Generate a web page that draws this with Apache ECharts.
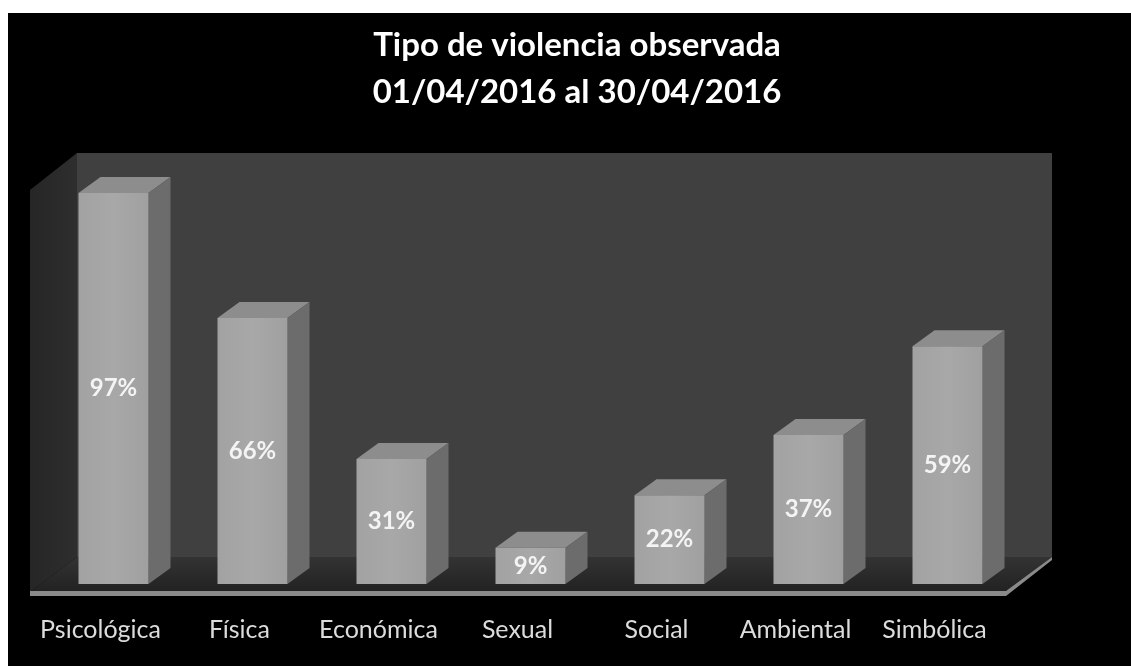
<!DOCTYPE html>
<html>
<head>
<meta charset="utf-8">
<script src="https://cdn.jsdelivr.net/npm/echarts@6/dist/echarts.min.js"></script>
<style>
  html, body { margin: 0; padding: 0; background: #fff; }
  #chart { width: 1131px; height: 666px; }
</style>
</head>
<body>
<div id="chart"></div>
<script>
const categories = ['Psicológica', 'Física', 'Económica', 'Sexual', 'Social', 'Ambiental', 'Simbólica'];
const values = [97, 66, 31, 9, 22, 37, 59];
const titleLines = ['Tipo de violencia observada', '01/04/2016 al 30/04/2016'];

const myChart = echarts.init(document.getElementById('chart'));

// depth of the fake 3d boxes
const DX = 22, DY = 16;

const option = {
    backgroundColor: '#ffffff',
    animation: false,
    title: {
        text: titleLines.join('\n'),
        left: 572,
        top: 17,
        textAlign: 'center',
        textStyle: {
            color: '#ffffff',
            fontFamily: 'Lato',
            fontWeight: 'bold',
            fontSize: 33,
            lineHeight: 47
        }
    },
    graphic: [
        // black panel
        {type: 'rect', z: -10, shape: {x: 8, y: 13, width: 1123, height: 653}, style: {fill: '#000'}},
        // back wall
        {type: 'rect', z: -9, shape: {x: 77, y: 153, width: 975, height: 404}, style: {fill: '#404040'}},
        // left wall
        {type: 'polygon', z: -9, shape: {points: [[30, 190], [77, 153], [77, 557], [30, 592]]},
            style: {fill: new echarts.graphic.LinearGradient(0, 0, 1, 0, [
                {offset: 0, color: '#262626'}, {offset: 1, color: '#2e2e2e'}])}},
        // floor
        {type: 'polygon', z: -9, shape: {points: [[30, 592], [77, 557], [1052, 557], [1005, 592]]},
            style: {fill: new echarts.graphic.LinearGradient(0, 0, 0, 1, [
                {offset: 0, color: '#333333'}, {offset: 1, color: '#222222'}])}},
        // floor front edge
        {type: 'polygon', z: -9, shape: {points: [[30, 591], [1006, 591], [1052, 557], [1052, 560], [1006, 596], [30, 596]]},
            style: {fill: '#8a8a8a'}}
    ],
    grid: {left: 44, right: 114, top: 181, bottom: 82},
    xAxis: {
        type: 'category',
        data: categories,
        axisLine: {show: false},
        axisTick: {show: false},
        axisLabel: {
            interval: 0,
            color: '#dcdcdc',
            fontFamily: 'Lato',
            fontSize: 25,
            margin: 33,
            padding: [0, 26, 0, 0]
        }
    },
    yAxis: {
        type: 'value',
        min: 0,
        max: 100,
        show: false
    },
    series: [
        {
            // top and side faces of the boxes
            type: 'custom',
            z: 1,
            data: values.map(function (v, i) { return [i, v]; }),
            renderItem: function (params, api) {
                const top = api.coord([api.value(0), api.value(1)]);
                const base = api.coord([api.value(0), 0]);
                const w = 70;
                const x0 = top[0] - w / 2, x1 = top[0] + w / 2;
                return {
                    type: 'group',
                    children: [
                        {
                            type: 'polygon',
                            shape: {points: [[x0, top[1]], [x0 + DX, top[1] - DY], [x1 + DX, top[1] - DY], [x1, top[1]]]},
                            style: {fill: '#8d8d8d'}
                        },
                        {
                            type: 'polygon',
                            shape: {points: [[x1, top[1]], [x1 + DX, top[1] - DY], [x1 + DX, base[1] - DY], [x1, base[1]]]},
                            style: {fill: '#6c6c6c'}
                        }
                    ]
                };
            }
        },
        {
            type: 'bar',
            z: 2,
            data: values,
            barWidth: 70,
            itemStyle: {
                color: new echarts.graphic.LinearGradient(0, 0, 1, 0, [
                    {offset: 0, color: '#a2a2a2'}, {offset: 0.5, color: '#a8a8a8'}, {offset: 1, color: '#a0a0a0'}])
            },
            label: {
                show: true,
                position: 'inside',
                formatter: '{c}%',
                color: '#f4f4f4',
                fontFamily: 'Lato',
                fontWeight: 'bold',
                fontSize: 24
            }
        }
    ]
};

myChart.setOption(option);
window.onresize = myChart.resize;
</script>
</body>
</html>
